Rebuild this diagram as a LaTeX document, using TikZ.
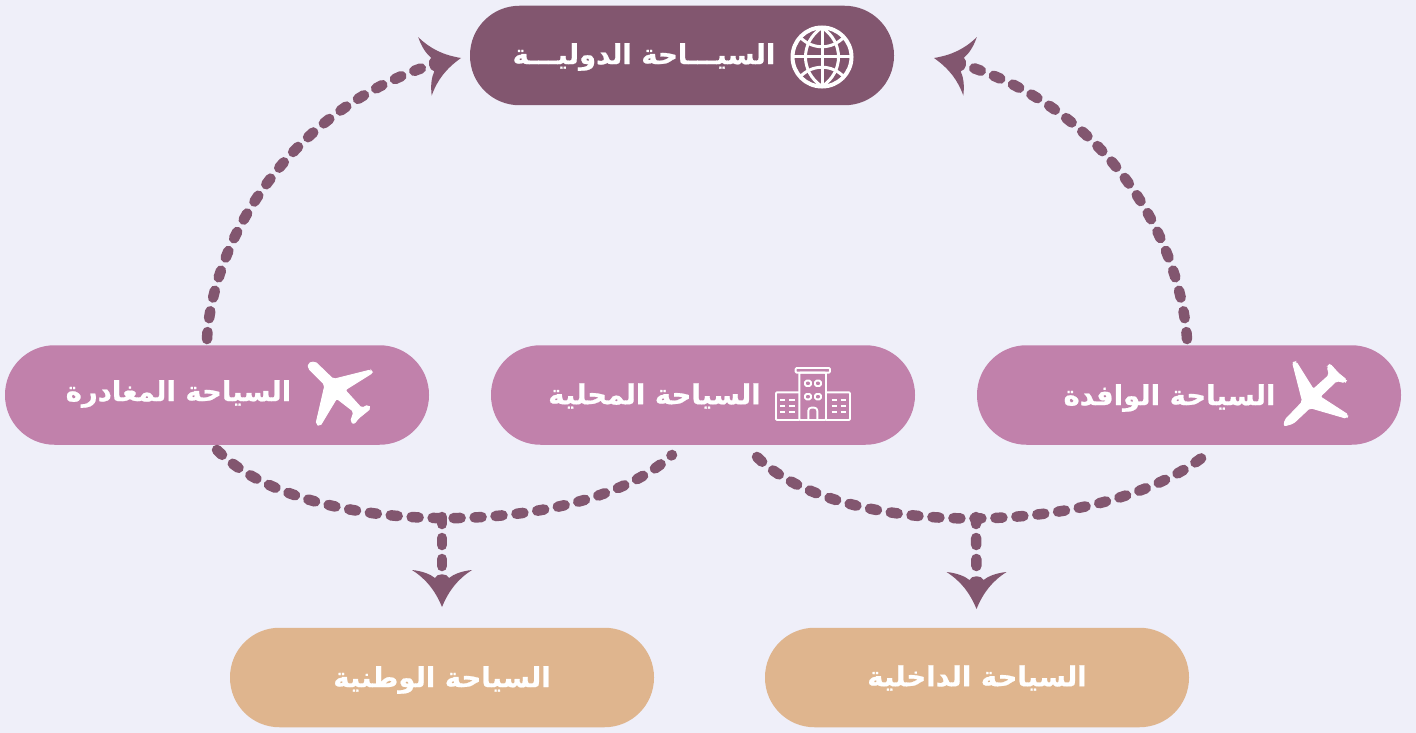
\documentclass[tikz,border=0pt]{standalone}
\usepackage{fontspec}
\usetikzlibrary{calc}
\TeXXeTstate=1
\newfontfamily\arabicfont[Script=Arabic,FakeBold=0.7]{DejaVu Sans Bold}
\definecolor{bgc}{HTML}{EFEFF9}
\definecolor{plum}{HTML}{82566F}
\definecolor{orchid}{HTML}{C181AB}
\definecolor{sand}{HTML}{DFB58E}
\tikzset{
 x=1pt,y=-1pt,
 pill/.style={rounded corners=49.5pt,minimum width=424pt,minimum height=99.5pt,inner sep=0pt,draw=none},
 lab/.style={text=white,inner sep=0pt,font=\arabicfont\fontsize{27.5}{30}\selectfont},
 dots/.style={draw=plum,line width=10.5pt,line cap=round,dash pattern=on 7pt off 14pt},
 ico/.style={draw=white,line width=1.9pt,line join=round},
 globeline/.style={draw=white,line width=3pt},
 pics/headtip/.style={code={
   \fill[plum] (0,0) .. controls (-7,-17) and (-16,-28) .. (-30,-37)
     .. controls (-20,-36) and (-12,-33) .. (-7,-29)
     .. controls (-5,-34) and (5,-34) .. (7,-29)
     .. controls (12,-33) and (20,-36) .. (30,-37)
     .. controls (16,-28) and (7,-17) .. (0,0) -- cycle;
   \coordinate (-notch) at (0,-30);
 }}
}
\begin{document}
\begin{tikzpicture}
\useasboundingbox (0,0) rectangle (1416,733);
\fill[bgc] (0,0) rectangle (1416,733);
\node[pill,fill=plum] (intl) at (682,55.5) {};
\node[pill,fill=orchid] (out) at (217,395) {};
\node[pill,fill=orchid] (loc) at (703,395) {};
\node[pill,fill=orchid] (inb) at (1189,395) {};
\node[pill,fill=sand] (nat) at (442,677.5) {};
\node[pill,fill=sand] (dom) at (977,677.5) {};
\node[lab] (tintl) at (644,57) {\beginR السيـــاحة الدوليـــة\endR};
\node[lab] (tout) at (178.5,394) {\beginR السياحة المغادرة\endR};
\node[lab] (tloc) at (654.5,396) {\beginR السياحة المحلية\endR};
\node[lab] (tinb) at (1169.5,398) {\beginR السياحة الوافدة\endR};
\node[lab] (tnat) at (442,680) {\beginR السياحة الوطنية\endR};
\node[lab] (tdom) at (977,678) {\beginR السياحة الداخلية\endR};
% arrowheads
\pic (hl) at (461,58) [rotate=103] {headtip};
\pic (hr) at (934,58) [rotate=-103] {headtip};
\pic (hn) at (442,607) {headtip};
\pic (hd) at (976.5,609) {headtip};
\coordinate (jn) at (442,517);
\coordinate (jd) at (976,517);
% connectors
\draw[dots] ($(out.north)+(-10,-6)$) .. controls (212,245) and (285,112) .. (hl-notch);
\draw[dots] ($(inb.north)+(-2,-6)$) .. controls (1180,240) and (1110,110) .. (hr-notch);
\draw[dots] ($(out.south)+(0,5)$) .. controls (305,540) and (580,540) .. ($(loc.south)+(-31,10)$);
\draw[dots] ($(loc.south)+(54,12)$) .. controls (840,540) and (1107,540) .. ($(inb.south)+(22,5.5)$);
\draw[dots] (jn) -- (hn-notch);
\draw[dots] (jd) -- (hd-notch);
% globe
\begin{scope}[shift={(822,57)}]
\draw[draw=white,line width=4pt] (0,0) circle[radius=29.5];
\draw[globeline] (0,-29.5) .. controls (-22,-15) and (-22,15) .. (0,29.5) .. controls (22,15) and (22,-15) .. (0,-29.5);
\draw[globeline] (0,-29.5) -- (0,29.5) (-29.5,0) -- (29.5,0);
\draw[globeline] (-22,-20) .. controls (-10,-7) and (10,-7) .. (22,-20);
\draw[globeline] (-22,20) .. controls (-10,7) and (10,7) .. (22,20);
\end{scope}
% left plane
\begin{scope}[shift={(0,340)},x=0.3333pt,y=-0.3333pt]
\fill[white,draw=white,line width=1pt,rounded corners=2pt] (925,70) -- (945,65) -- (1000,118) -- (1112,90) -- (1118,98) -- (1035,150) -- (1085,205) -- (1105,195) -- (1112,205) -- (1075,235) -- (1062,252) -- (1052,245) -- (1062,215) -- (1010,175) -- (960,258) -- (948,252) -- (975,135) -- (925,85) -- cycle;
\end{scope}
% right plane
\begin{scope}[shift={(980,340)},x=0.3333pt,y=-0.3333pt]
\fill[white,draw=white,line width=1pt,rounded corners=2pt] (938,68) -- (948,65) -- (1000,148) -- (1048,105) -- (1042,80) -- (1050,72) -- (1075,100) -- (1100,120) -- (1095,128) -- (1070,122) -- (1020,170) -- (1105,225) -- (1100,235) -- (990,203) -- (940,250) -- (912,258) -- (915,240) -- (968,185) -- cycle;
\end{scope}
% building
\begin{scope}[shift={(490,340)},x=0.3333pt,y=-0.3333pt]
\draw[ico,rounded corners=1pt] (917,84) rectangle (1020,98);
\draw[ico,rounded corners=1pt] (928,98) rectangle (1008,240);
\draw[ico,rounded corners=1pt] (928,157) -- (858,157) -- (858,240) -- (928,240);
\draw[ico,rounded corners=1pt] (1008,157) -- (1080,157) -- (1080,240) -- (1008,240);
\draw[ico,rounded corners=3pt] (955,240) -- (955,203) -- (982,203) -- (982,240);
\foreach \wx in {945,975}{\foreach \wy in {122,162}{
  \draw[ico,rounded corners=1.5pt] (\wx,\wy) rectangle ++(18,16);
}}
\foreach \ly in {180,198,216}{
  \draw[ico] (870,\ly) -- (885,\ly) (897,\ly) -- (915,\ly);
  \draw[ico] (1025,\ly) -- (1040,\ly) (1052,\ly) -- (1068,\ly);
}
\end{scope}
\end{tikzpicture}
\end{document}
